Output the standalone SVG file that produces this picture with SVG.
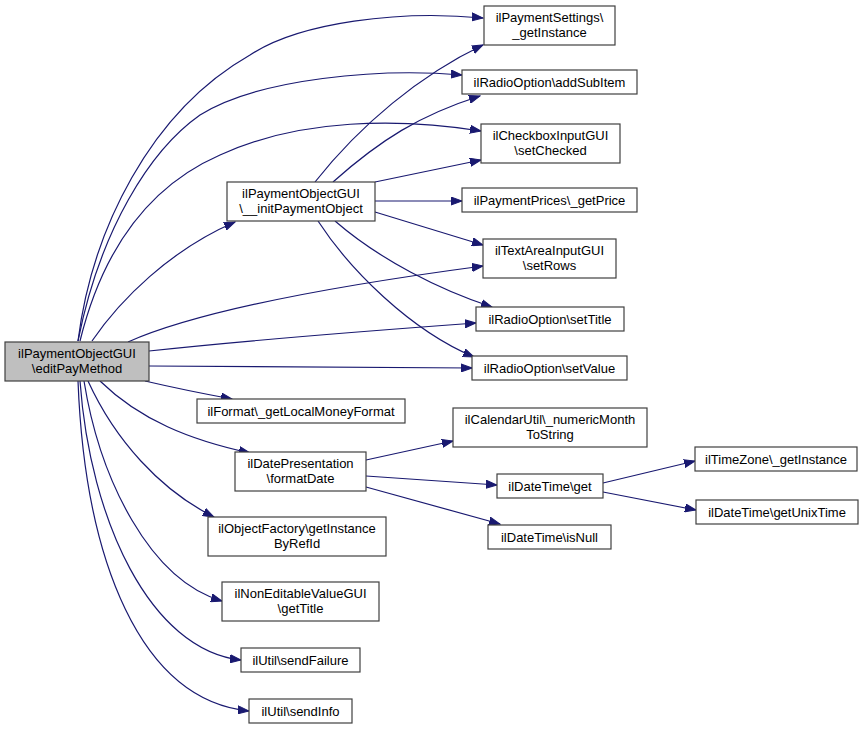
<svg xmlns="http://www.w3.org/2000/svg" width="865" height="730" viewBox="0 0 865 730">
<style>
.n rect{fill:#ffffff;stroke:#404040;stroke-width:1.2}
.n.root rect{fill:#bfbfbf}
.n text{font-family:"Liberation Sans",Arial,Helvetica,sans-serif;font-size:13px;fill:#000;text-anchor:middle}
.e path{fill:none;stroke:#191970;stroke-width:1.2;marker-end:url(#a)}
</style>
<defs>
<marker id="a" markerWidth="12" markerHeight="9" refX="11" refY="4.5" orient="auto" markerUnits="userSpaceOnUse">
<path d="M0,0.5 L11,4.5 L0,8.5 z" fill="#191970" stroke="#191970" stroke-width="1"/>
</marker>
</defs>
<rect width="865" height="730" fill="#ffffff"/>
<g id="edges" class="e">
<path d="M78,341 C92,230 150,112 250,55 C300,22 400,10 483,18"/>
<path d="M78,341 C100,230 150,150 200,115 C260,78 380,68 462,75"/>
<path d="M80,341 C100,260 140,190 220,155 C300,118 400,118 481,131"/>
<path d="M92,341 C120,300 170,250 235,222"/>
<path d="M128,342 C200,310 340,285 483,266"/>
<path d="M149,351 C250,340 380,330 476,323"/>
<path d="M149,366 L472,368"/>
<path d="M145,381 C175,388 205,394 232,399"/>
<path d="M100,381 C140,420 190,440 250,453"/>
<path d="M88,381 C115,440 160,490 214,517"/>
<path d="M84,381 C100,480 150,580 222,601"/>
<path d="M80,381 C90,520 150,650 241,660"/>
<path d="M78,381 C85,560 140,700 249,711"/>
<path d="M315,182 C360,125 420,75 483,45"/>
<path d="M333,182 C380,140 420,115 480,96"/>
<path d="M375,182 L481,160"/>
<path d="M375,201 L462,201"/>
<path d="M375,212 L483,245"/>
<path d="M335,221 C380,260 440,290 492,307"/>
<path d="M318,221 C350,270 410,330 474,357"/>
<path d="M366,460 L453,441"/>
<path d="M366,476 L497,485"/>
<path d="M366,487 L500,524"/>
<path d="M603,483 L695,461"/>
<path d="M603,492 L696,510"/>
</g>
<g id="main" class="n root"><rect x="5" y="342" width="144" height="39"/><text x="77" y="358">ilPaymentObjectGUI</text><text x="77" y="373">\editPayMethod</text></g>
<g id="initPaymentObject" class="n"><rect x="227" y="182" width="148" height="39"/><text x="301" y="198">ilPaymentObjectGUI</text><text x="301" y="213">\__initPaymentObject</text></g>
<g id="paymentSettings" class="n"><rect x="484" y="6" width="131" height="39"/><text x="549.5" y="22">ilPaymentSettings\</text><text x="549.5" y="37">_getInstance</text></g>
<g id="addSubItem" class="n"><rect x="462" y="70" width="175" height="24"/><text x="549.5" y="87">ilRadioOption\addSubItem</text></g>
<g id="setChecked" class="n"><rect x="481" y="124" width="139" height="39"/><text x="550.5" y="140">ilCheckboxInputGUI</text><text x="550.5" y="155">\setChecked</text></g>
<g id="getPrice" class="n"><rect x="462" y="188" width="175" height="24"/><text x="549.5" y="205">ilPaymentPrices\_getPrice</text></g>
<g id="setRows" class="n"><rect x="483" y="239" width="133" height="39"/><text x="549.5" y="255">ilTextAreaInputGUI</text><text x="549.5" y="270">\setRows</text></g>
<g id="setTitle" class="n"><rect x="476" y="307" width="148" height="24"/><text x="550" y="324">ilRadioOption\setTitle</text></g>
<g id="setValue" class="n"><rect x="472" y="356" width="155" height="24"/><text x="549.5" y="373">ilRadioOption\setValue</text></g>
<g id="moneyFormat" class="n"><rect x="197" y="399" width="208" height="24"/><text x="301" y="416">ilFormat\_getLocalMoneyFormat</text></g>
<g id="formatDate" class="n"><rect x="235" y="452" width="131" height="39"/><text x="300.5" y="468">ilDatePresentation</text><text x="300.5" y="483">\formatDate</text></g>
<g id="numericMonth" class="n"><rect x="453" y="408" width="194" height="39"/><text x="550" y="424">ilCalendarUtil\_numericMonth</text><text x="550" y="439">ToString</text></g>
<g id="dtGet" class="n"><rect x="497" y="474" width="106" height="24"/><text x="550" y="491">ilDateTime\get</text></g>
<g id="isNull" class="n"><rect x="488" y="525" width="123" height="24"/><text x="549.5" y="542">ilDateTime\isNull</text></g>
<g id="tzInstance" class="n"><rect x="695" y="447" width="162" height="24"/><text x="776" y="464">ilTimeZone\_getInstance</text></g>
<g id="unixTime" class="n"><rect x="696" y="500" width="162" height="24"/><text x="777" y="517">ilDateTime\getUnixTime</text></g>
<g id="objFactory" class="n"><rect x="208" y="517" width="178" height="39"/><text x="297" y="533">ilObjectFactory\getInstance</text><text x="297" y="548">ByRefId</text></g>
<g id="nonEditable" class="n"><rect x="222" y="582" width="157" height="39"/><text x="300.5" y="598">ilNonEditableValueGUI</text><text x="300.5" y="613">\getTitle</text></g>
<g id="sendFailure" class="n"><rect x="241" y="648" width="119" height="24"/><text x="300.5" y="665">ilUtil\sendFailure</text></g>
<g id="sendInfo" class="n"><rect x="249" y="699" width="103" height="24"/><text x="300.5" y="716">ilUtil\sendInfo</text></g>
</svg>
